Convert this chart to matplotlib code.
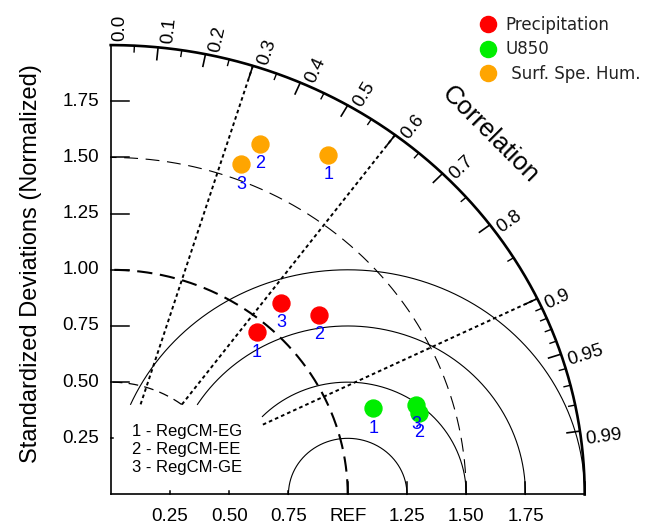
import numpy as np
import matplotlib
matplotlib.use('Agg')
import matplotlib.pyplot as plt

plt.rcParams['lines.scale_dashes'] = False

# normalized standard deviation and correlation, models 1..3
model_names = ['RegCM-EG', 'RegCM-EE', 'RegCM-GE']
var_names = ['Precipitation', 'U850', ' Surf. Spe. Hum.']
var_colors = ['#ff0000', '#00ee00', '#ffa500']
precip_std = [0.949, 1.189, 1.117]
precip_cor = [0.649, 0.739, 0.645]
u850_std = [1.172, 1.352, 1.349]
u850_cor = [0.945, 0.963, 0.955]
hum_std = [1.769, 1.683, 1.570]
hum_cor = [0.519, 0.374, 0.350]

std_ticks = [0.25, 0.50, 0.75, 1.00, 1.25, 1.50, 1.75]
x_ticklabels = ['0.25', '0.50', '0.75', 'REF', '1.25', '1.50', '1.75']
cor_labels = ['0.0', '0.1', '0.2', '0.3', '0.4', '0.5', '0.6', '0.7', '0.8', '0.9', '0.95', '0.99']
cor_minor = [0.05, 0.15, 0.25, 0.35, 0.45, 0.55, 0.65, 0.75, 0.85,
             0.91, 0.92, 0.93, 0.94, 0.96, 0.97, 0.98]
cor_rays = [0.3, 0.6, 0.9]
rms_radii = [0.25, 0.5, 0.75, 1.0]

W, H = 653, 528
fig = plt.figure(figsize=(W / 100, H / 100), dpi=100)
ax = fig.add_axes([0, 0, 1, 1])
xlim = (-0.4671, 2.2882)
ylim = (-0.1491, 2.2007)
ax.set_xlim(xlim)
ax.set_ylim(ylim)
ax.axis('off')
sx = W / (xlim[1] - xlim[0])   # pixels per unit
sy = H / (ylim[1] - ylim[0])

tfont = 'Liberation Sans'
smax = 2.0


def cut(x, y):
    # blank the corner box holding the model key
    x = np.array(x, float)
    y = np.array(y, float)
    m = (x < 0.64) & (y < 0.40)
    x[m] = np.nan
    y[m] = np.nan
    return x, y


def scr_angle(th):
    return np.degrees(np.arctan2(sy * np.sin(th), sx * np.cos(th)))


# frame
th = np.linspace(0, np.pi / 2, 500)
ax.plot(smax * np.cos(th), smax * np.sin(th), color='k', lw=1.9)
ax.plot([0, 0], [0, smax], color='k', lw=1.2)
ax.plot([0, smax], [0, 0], color='k', lw=1.2)

# std ticks and labels
for v in std_ticks:
    ln = 0.08 if v >= 0.5 else 0.012
    ax.plot([0, ln * sy / sx], [v, v], color='k', lw=1.1)
    ax.text(-11.5 / sx, v, '%.2f' % v, ha='right', va='center', fontsize=13.5, family=tfont)
for v, lab in zip(std_ticks + [2.0], x_ticklabels + ['']):
    ln = 0.055 if v >= 1.0 else 0.014
    ax.plot([v, v], [0, ln], color='k', lw=1.1)
    if lab:
        ax.text(v, -22.5 / sy, lab, ha='center', va='center', fontsize=13.5, family=tfont)

# correlation ticks
for c in [float(s) for s in cor_labels[1:]]:
    a = np.arccos(c)
    ax.plot([smax * np.cos(a), (smax - 0.055) * np.cos(a)],
            [smax * np.sin(a), (smax - 0.055) * np.sin(a)], color='k', lw=1.2)
for c in cor_minor:
    a = np.arccos(c)
    ax.plot([smax * np.cos(a), (smax - 0.028) * np.cos(a)],
            [smax * np.sin(a), (smax - 0.028) * np.sin(a)], color='k', lw=1.0)

# correlation labels
for lab in cor_labels:
    a = np.arccos(float(lab))
    phi = np.radians(scr_angle(a))
    px = 13.3 * np.sin(phi)
    py = -13.3 * np.cos(phi)
    ax.text(2.02 * np.cos(a) + px / sx, 2.02 * np.sin(a) + py / sy, lab,
            rotation=np.degrees(phi), rotation_mode='anchor',
            ha='left', va='baseline', fontsize=13.5, family=tfont)

ax.text(1.600, 1.604, 'Correlation', rotation=-45, ha='center', va='center',
        fontsize=18.5, family=tfont)
ax.text(-0.336, 1.026, 'Standardized Deviations (Normalized)', rotation=90,
        ha='center', va='center', fontsize=17, family=tfont)

# std circles
x, y = cut(0.5 * np.cos(th), 0.5 * np.sin(th))
ax.plot(x, y, color='k', lw=0.9, ls=(0, (7, 4.5)))
ax.plot(1.0 * np.cos(th), 1.0 * np.sin(th), color='k', lw=1.5, ls=(0, (11, 5.5)))
ax.plot(1.5 * np.cos(th), 1.5 * np.sin(th), color='k', lw=0.8, ls=(0, (10, 5.5)))

# correlation rays
rr = np.linspace(0, smax, 800)
for c in cor_rays:
    a = np.arccos(c)
    x, y = cut(rr * np.cos(a), rr * np.sin(a))
    ax.plot(x, y, color='k', lw=1.4, ls=(0, (2.6, 2.2)))

# centred RMS arcs around REF
ang = np.linspace(0, np.pi, 1500)
for r in rms_radii:
    x, y = cut(1.0 + r * np.cos(ang), r * np.sin(ang))
    ax.plot(x, y, color='k', lw=0.8)

# model key
for i, name in enumerate(model_names):
    ax.text(21.6 / sx, (494.5 - 431.7 - 17.8 * i) / sy, '%d - %s' % (i + 1, name),
            ha='left', va='center', fontsize=12, family=tfont)

# points
series = [(precip_std, precip_cor), (u850_std, u850_cor), (hum_std, hum_cor)]
for (sd, cc), name, col in zip(series, var_names, var_colors):
    sd = np.array(sd)
    cc = np.array(cc)
    xs = sd * cc
    ys = sd * np.sin(np.arccos(cc))
    ax.plot(xs, ys, 'o', color=col, ms=12.2, ls='none', label=name, zorder=5)
    for i in range(len(xs)):
        ax.annotate(str(i + 1), (xs[i], ys[i]), xytext=(0, -20), textcoords='offset pixels',
                    ha='center', va='center', color='#0000ff', fontsize=13,
                    family=tfont, zorder=6)

ax.legend(loc='upper left', bbox_to_anchor=(479.7 / W, 1 - 16.3 / H),
          bbox_transform=fig.transFigure, frameon=False,
          prop={'family': 'DejaVu Sans', 'size': 12}, handlelength=1.0,
          handletextpad=0.55, labelspacing=0.37, borderaxespad=0, borderpad=0,
          markerscale=0.95, labelcolor='#222222')

fig.savefig('out.png', dpi=100)
